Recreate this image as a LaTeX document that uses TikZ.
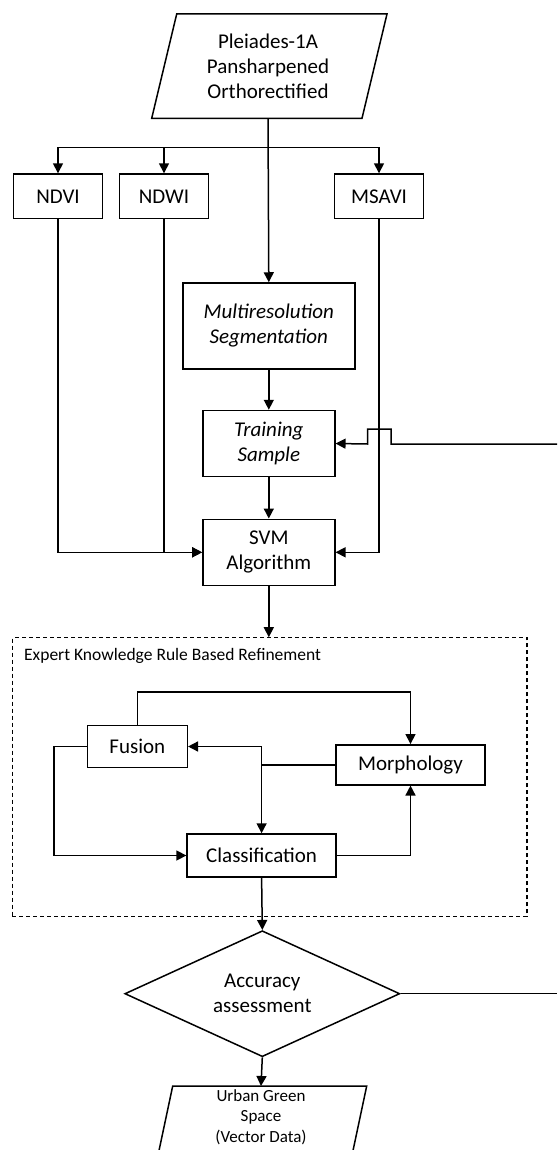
\documentclass[tikz,border=0pt]{standalone}
\usepackage{fontspec}
\setmainfont{Carlito}
\usetikzlibrary{arrows.meta,shapes.geometric}
\begin{document}
\begin{tikzpicture}[x=1pt,y=-1pt,
  box/.style={draw,line width=1.5pt,fill=white,inner sep=0pt,align=center,font=\fontsize{21}{25}\selectfont},
  itbox/.style={box,font=\fontsize{21}{25}\selectfont\itshape},
  arr/.style={line width=1.5pt,-{Triangle[length=10pt,width=10pt]}},
  ln/.style={line width=1.5pt}]
\clip (0,0) rectangle (557,1150);
% source
\draw[ln,fill=white] (176.7,14) -- (387,14) -- (362,118.3) -- (151.7,118.3) -- cycle;
\node[inner sep=0pt,align=center,font=\fontsize{21}{25}\selectfont,minimum width=210,minimum height=104] (src) at (268,66.3) {Pleiades-1A\\Pansharpened\\Orthorectified};
% indices
\node[box,minimum width=89,minimum height=44.7] (ndvi) at (58,196.4) {NDVI};
\node[box,minimum width=89,minimum height=44.7] (ndwi) at (164,196.4) {NDWI};
\node[box,minimum width=89,minimum height=44.7] (msavi) at (379,196.4) {MSAVI};
\node[itbox,minimum width=172,minimum height=86] (multi) at (268.8,326) {Multiresolution\\Segmentation};
\node[itbox,minimum width=132,minimum height=66] (train) at (268.8,443.5) {Training\\Sample};
\node[box,minimum width=132,minimum height=66] (svm) at (268.8,552.3) {SVM\\Algorithm};
% refinement
\node[draw,dash pattern=on 4pt off 3pt,line width=1.2pt,minimum width=514.6,minimum height=279,inner sep=0pt] (ref) at (269.7,777.3) {};
\node[anchor=base west,inner sep=0pt,font=\fontsize{17.5}{20}\selectfont] (reft) at (24,660) {Expert Knowledge Rule Based Refinement};
\node[box,minimum width=100,minimum height=42] (fus) at (137.3,746.5) {Fusion};
\node[box,minimum width=149,minimum height=40] (morph) at (410.5,764.8) {Morphology};
\node[box,minimum width=149,minimum height=43] (cls) at (261.6,855.5) {Classification};
% accuracy
\node[box,diamond,aspect=2.19,minimum width=275,minimum height=126] (acc) at (262.3,993.7) {Accuracy\\assessment};
% output
\draw[ln] (157,1160) -- (172.7,1086) -- (366.7,1086) -- (351,1160);
\node[anchor=north,inner sep=0pt,inner ysep=3pt,align=center,font=\fontsize{17}{20.5}\selectfont] (out) at (261,1086) {Urban Green\\Space\\(Vector Data)};
% free ends
\coordinate (j) at (268,147.3);
\coordinate (fbT) at (557,444);
\coordinate (fbA) at (557,993.7);
% connectors
\draw[arr] (src.south) -- (multi.north);
\draw[ln] (j -| ndvi.north) -- (j -| msavi.north);
\draw[arr] (j -| ndvi.north) -- (ndvi.north);
\draw[arr] (j -| ndwi.north) -- (ndwi.north);
\draw[arr] (j -| msavi.north) -- (msavi.north);
\draw[arr] (multi.south) -- (train.north);
\draw[arr] (train.south) -- (svm.north);
\draw[arr] (ndvi.south) |- (svm.west);
\draw[arr] (ndwi.south) |- (svm.west);
\draw[arr] (msavi.south) |- (svm.east);
\draw[arr] (fbT) -- (391,444) -- (391,429) -- (367.7,429) -- (367.7,444) -- (train.east);
\draw[arr] (svm.south) -- (svm.south |- ref.north);
\draw[arr] (fus.north) -- ++(0,-33) -| (morph.north);
\draw[arr] (fus.west) -- ++(-32.4,0) |- (cls.west);
\draw[arr] (morph.west) -| (cls.north);
\draw[ln] (cls.north |- fus.east) -- (cls.north |- morph.west);
\draw[arr] (cls.north |- fus.east) -- (fus.east);
\draw[arr] (cls.east) -| (morph.south);
\draw[arr] (cls.south) -- (acc.north);
\draw[ln] (acc.east) -- (fbA);
\draw[arr] (acc.south) -- (out.north);
\end{tikzpicture}
\end{document}
